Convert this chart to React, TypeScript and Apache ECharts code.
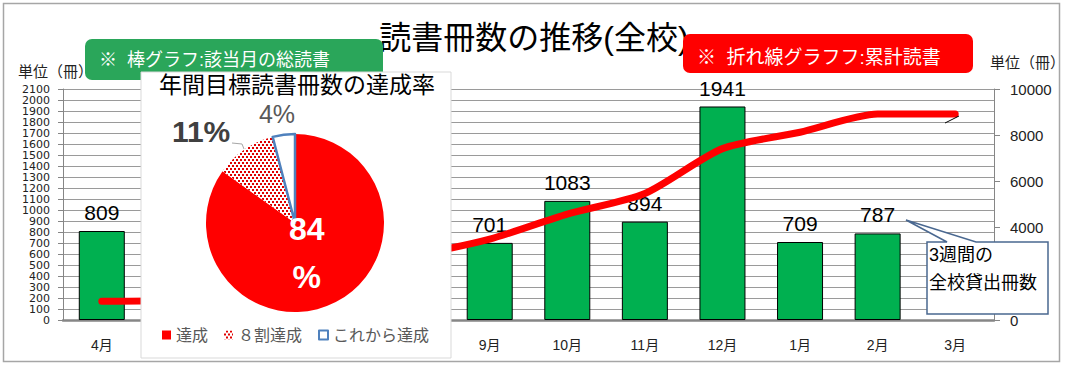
import React, { useEffect, useRef } from 'react';
import * as echarts from 'echarts';

const months = ['4月', '5月', '6月', '7月', '8月', '9月', '10月', '11月', '12月', '1月', '2月', '3月'];
const monthlyBooks = [809, 95, 850, 760, 286, 701, 1083, 894, 1941, 709, 787, null];
const cumulativeBooks = [809, 904, 1754, 2514, 2800, 3501, 4584, 5478, 7419, 8128, 8915, 8915];
// months whose bars / labels lie behind the pie panel in the reference
const hiddenMonths = ['5月', '6月', '7月', '8月'];
const pieNames = ['達成', '８割達成', 'これから達成'];
const pieValues = [84, 11, 4];
const leftTicks = { min: 0, max: 2100, interval: 100 };
const rightTicks = { min: 0, max: 10000, interval: 2000 };
// right-axis tick label covered by the callout box in the reference
const rightHiddenTicks = [2000];
const unitLabel = '単位（冊）';
const mainTitle = '読書冊数の推移(全校)';
const pieTitle = '年間目標読書冊数の達成率';
const barNote = '※  棒グラフ:該当月の総読書';
const lineNote = '※  折れ線グラフフ:累計読書';
const calloutText = '3週間の\n全校貸出冊数';

const FONT = "'Liberation Sans', 'Noto Sans CJK JP', sans-serif";

export default function App() {
  const ref = useRef<HTMLDivElement>(null);
  useEffect(() => {
    document.body.style.margin = '0';
    if (!ref.current) return;
    const chart = echarts.init(ref.current, null, { renderer: 'svg' });
    const last = cumulativeBooks.length - 1;
    const pieStyles = [
      {
        itemStyle: { color: '#ff0000', borderWidth: 0 },
        label: { formatter: '{c}\n%', fontSize: 32, fontWeight: 'bold', color: '#ffffff', lineHeight: 48, offset: [-10, -12] },
      },
      {
        itemStyle: {
          color: '#ffffff',
          borderWidth: 0,
          decal: { symbol: 'rect', symbolSize: 1, color: '#e00000', dashArrayX: [[2, 2], [0, 2, 2, 0]], dashArrayY: [2, 1] },
        },
        label: { formatter: '{c}%', fontSize: 30, fontWeight: 'bold', color: '#404040', offset: [-67, -52] },
      },
      {
        itemStyle: { color: '#ffffff', borderColor: '#4f81bd', borderWidth: 2.5 },
        label: { formatter: '{c}%', fontSize: 25, color: '#595959', offset: [-12, -62] },
      },
    ];
    const option: any = {
      animation: false,
      backgroundColor: '#ffffff',
      textStyle: { fontFamily: FONT },
      title: {
        text: mainTitle,
        left: 'center',
        top: 22,
        padding: 0,
        z: 1,
        textStyle: { fontSize: 32, fontWeight: 'normal', color: '#000', fontFamily: FONT },
      },
      grid: { left: 63, right: 72, top: 89, bottom: 46 },
      legend: {
        data: pieNames,
        left: 162,
        top: 324,
        padding: 0,
        icon: 'rect',
        itemWidth: 9,
        itemHeight: 9,
        itemGap: 16,
        selectedMode: false,
        z: 40,
        textStyle: { fontSize: 16, color: '#595959', lineHeight: 22, fontFamily: FONT },
      },
      xAxis: {
        type: 'category',
        data: months,
        axisLine: { lineStyle: { color: '#868686', width: 2.5 } },
        axisTick: { length: 6, lineStyle: { color: '#868686' } },
        axisLabel: {
          fontSize: 14,
          color: '#222',
          margin: 18,
          fontFamily: FONT,
          interval: (i: number, v: string) => !hiddenMonths.includes(v),
        },
      },
      yAxis: [
        {
          type: 'value',
          ...leftTicks,
          name: unitLabel,
          nameLocation: 'end',
          nameGap: 10,
          nameTextStyle: { fontSize: 15, color: '#222', align: 'center', padding: [0, 15, 0, 0], fontFamily: FONT },
          axisLine: { show: true, lineStyle: { color: '#868686' } },
          axisTick: { show: true, length: 5, lineStyle: { color: '#868686' } },
          axisLabel: {
            fontSize: 11,
            lineHeight: 9,
            color: '#222',
            margin: 13,
            fontFamily: "'DejaVu Sans', sans-serif",
            showMinLabel: true,
            showMaxLabel: true,
            hideOverlap: false,
            formatter: (v: number) => String(v),
          },
          splitLine: { lineStyle: { color: '#9a9a9a' } },
        },
        {
          type: 'value',
          ...rightTicks,
          position: 'right',
          name: unitLabel,
          nameLocation: 'end',
          nameGap: 19,
          nameTextStyle: { fontSize: 15, color: '#222', align: 'center', padding: [0, 0, 0, 67], fontFamily: FONT },
          axisLine: { show: true, lineStyle: { color: '#868686' } },
          axisTick: { show: true, length: 6, lineStyle: { color: '#868686' } },
          axisLabel: {
            fontSize: 15,
            color: '#222',
            margin: 16,
            fontFamily: FONT,
            showMinLabel: true,
            showMaxLabel: true,
            formatter: (v: number) => (rightHiddenTicks.includes(v) ? '' : String(v)),
          },
          splitLine: { show: false },
        },
      ],
      series: [
        {
          type: 'bar',
          name: '月別読書冊数',
          barWidth: 46,
          z: 2,
          itemStyle: { color: '#00b050', borderColor: '#000', borderWidth: 1 },
          label: { show: true, position: 'top', distance: 8, fontSize: 21, color: '#000', fontFamily: FONT },
          data: monthlyBooks.map((v, i) =>
            hiddenMonths.includes(months[i]) ? { value: v, label: { show: false } } : v
          ),
        },
        {
          type: 'line',
          name: '累計読書冊数',
          yAxisIndex: 1,
          smooth: 0.25,
          symbol: 'none',
          z: 3,
          lineStyle: { color: '#ff0000', width: 7, cap: 'round', join: 'round' },
          data: cumulativeBooks.map((v, i) =>
            i === last
              ? {
                  value: v,
                  label: { show: true, position: 'inside', offset: [-13, 44], fontSize: 40, color: '#ff0000', fontFamily: FONT },
                }
              : v
          ),
        },
        {
          type: 'pie',
          name: pieTitle,
          center: [295, 223],
          radius: 89,
          startAngle: 90,
          clockwise: true,
          z: 20,
          label: { show: true, position: 'inside', fontFamily: FONT },
          labelLine: { show: false },
          emphasis: { disabled: true },
          data: pieNames.map((n, i) => ({ name: n, value: pieValues[i], ...pieStyles[i] })),
        },
      ],
      graphic: [
        {
          type: 'rect',
          z: 5,
          silent: true,
          shape: { x: 85, y: 39, width: 298, height: 41, r: 7 },
          style: { fill: '#2aa65a' },
        },
        {
          type: 'text',
          z: 6,
          silent: true,
          x: 99,
          y: 59.5,
          style: { text: barNote, fill: '#ffffff', fontSize: 18, fontFamily: FONT, verticalAlign: 'middle' },
        },
        {
          type: 'rect',
          z: 10,
          silent: true,
          shape: { x: 141, y: 72, width: 310, height: 286 },
          style: { fill: '#ffffff', stroke: '#d9d9d9', lineWidth: 1 },
        },
        {
          type: 'text',
          z: 30,
          silent: true,
          x: 297,
          y: 85,
          style: { text: pieTitle, fill: '#000', fontSize: 23, fontFamily: FONT, align: 'center', verticalAlign: 'middle' },
        },
        {
          type: 'polyline',
          z: 30,
          silent: true,
          shape: { points: [[232, 143], [242, 144], [244, 149]] },
          style: { stroke: '#a6a6a6', lineWidth: 1, fill: 'none' },
        },
        {
          type: 'rect',
          z: 50,
          silent: true,
          shape: { x: 683, y: 34, width: 290, height: 39, r: 7 },
          style: { fill: '#ff0000' },
        },
        {
          type: 'text',
          z: 51,
          silent: true,
          x: 697,
          y: 57,
          style: { text: lineNote, fill: '#ffffff', fontSize: 19, fontFamily: FONT, verticalAlign: 'middle' },
        },
        {
          type: 'polygon',
          z: 30,
          silent: true,
          shape: { points: [[927, 242], [947, 242], [906, 220], [976, 242], [1048, 242], [1048, 314], [927, 314]] },
          style: { fill: '#ffffff', stroke: '#4a6890', lineWidth: 1.5 },
        },
        {
          type: 'text',
          z: 31,
          silent: true,
          x: 929,
          y: 241,
          style: { text: calloutText, fill: '#000', fontSize: 18, lineHeight: 28, fontFamily: FONT, verticalAlign: 'top' },
        },
        {
          type: 'line',
          z: 30,
          silent: true,
          shape: { x1: 959, y1: 116, x2: 945, y2: 123 },
          style: { stroke: '#000', lineWidth: 1 },
        },
        {
          type: 'rect',
          z: 100,
          silent: true,
          shape: { x: 3.5, y: 3.5, width: 1056, height: 358 },
          style: { fill: 'none', stroke: '#a6a6a6', lineWidth: 1.5 },
        },
      ],
    };
    chart.setOption(option);
    return () => chart.dispose();
  }, []);
  return <div ref={ref} style={{ width: 1068, height: 366 }} />;
}
